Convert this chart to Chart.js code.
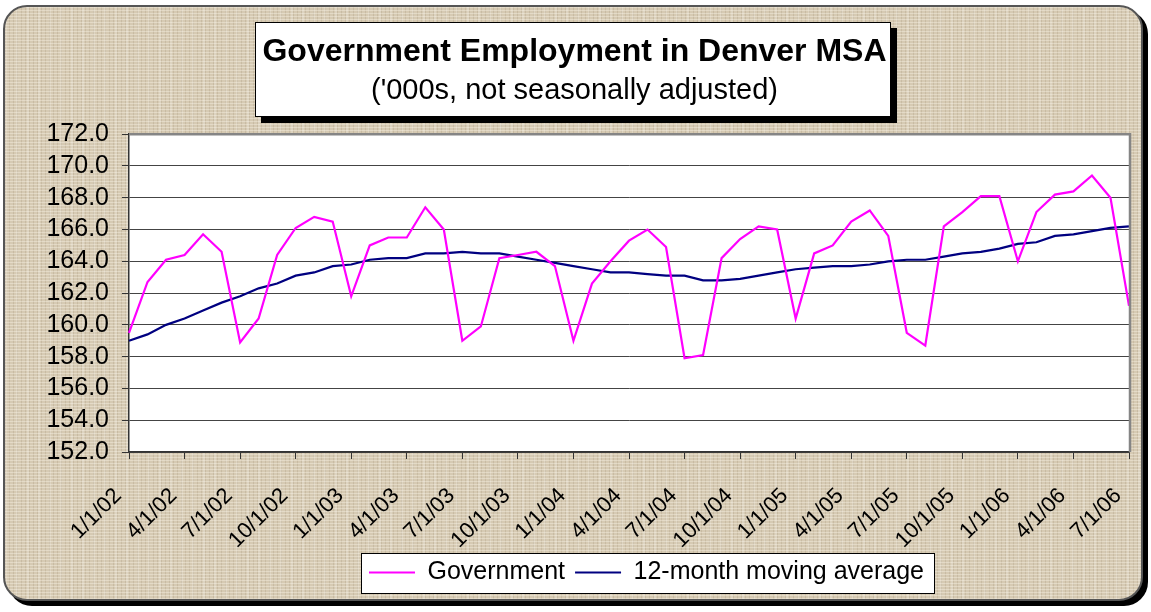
<!DOCTYPE html>
<html>
<head>
<meta charset="utf-8">
<title>Government Employment in Denver MSA</title>
<script src="https://cdn.jsdelivr.net/npm/chart.js@4"></script>
<style>
  html, body { margin: 0; padding: 0; background: #fff; }
  #wrap { position: relative; width: 1151px; height: 612px; overflow: hidden; }
  #frame {
    position: absolute; left: 3px; top: 5px; width: 1136px; height: 592px;
    border: 2px solid #555; border-radius: 24px;
    box-shadow: 5px 5px 0 #000;
    background-color: #d6cab3;
    background-image:
      repeating-linear-gradient(0deg, rgba(255,250,238,0.35) 0px, rgba(255,250,238,0.35) 1px, transparent 1px, transparent 3px),
      repeating-linear-gradient(90deg, rgba(130,110,80,0.16) 0px, rgba(130,110,80,0.16) 1px, transparent 1px, transparent 4px),
      repeating-linear-gradient(90deg, rgba(255,255,255,0.18) 0px, rgba(255,255,255,0.18) 2px, transparent 2px, transparent 11px);
  }
  canvas { position: absolute; left: 0; top: 0; }
</style>
</head>
<body>
<div id="wrap">
  <div id="frame"></div>
  <canvas id="chart" width="1151" height="612"></canvas>
</div>
<script>
const months = [
  '1/1/02','2/1/02','3/1/02','4/1/02','5/1/02','6/1/02','7/1/02','8/1/02','9/1/02','10/1/02','11/1/02','12/1/02',
  '1/1/03','2/1/03','3/1/03','4/1/03','5/1/03','6/1/03','7/1/03','8/1/03','9/1/03','10/1/03','11/1/03','12/1/03',
  '1/1/04','2/1/04','3/1/04','4/1/04','5/1/04','6/1/04','7/1/04','8/1/04','9/1/04','10/1/04','11/1/04','12/1/04',
  '1/1/05','2/1/05','3/1/05','4/1/05','5/1/05','6/1/05','7/1/05','8/1/05','9/1/05','10/1/05','11/1/05','12/1/05',
  '1/1/06','2/1/06','3/1/06','4/1/06','5/1/06','6/1/06','7/1/06'
];

const tickLabels = [
  '1/1/02','4/1/02','7/1/02','10/1/02','1/1/03','4/1/03','7/1/03','10/1/03',
  '1/1/04','4/1/04','7/1/04','10/1/04','1/1/05','4/1/05','7/1/05','10/1/05',
  '1/1/06','4/1/06','7/1/06'
];

const government = [
  159.5, 162.7, 164.1, 164.4, 165.7, 164.6, 158.9, 160.4, 164.4, 166.1, 166.8, 166.5,
  161.8, 165.0, 165.5, 165.5, 167.4, 166.0, 159.0, 159.9, 164.2, 164.4, 164.6, 163.7,
  159.0, 162.6, 164.0, 165.3, 166.0, 164.9, 157.9, 158.1, 164.2, 165.4, 166.2, 166.0,
  160.4, 164.5, 165.0, 166.5, 167.2, 165.6, 159.5, 158.7, 166.2, 167.1, 168.1, 168.1,
  164.0, 167.1, 168.2, 168.4, 169.4, 168.0, 161.2
];

const movingAvg = [
  159.0, 159.4, 160.0, 160.4, 160.9, 161.4, 161.8, 162.3, 162.6, 163.1, 163.3, 163.7,
  163.8, 164.1, 164.2, 164.2, 164.5, 164.5, 164.6, 164.5, 164.5, 164.3, 164.1, 163.9,
  163.7, 163.5, 163.3, 163.3, 163.2, 163.1, 163.1, 162.8, 162.8, 162.9, 163.1, 163.3,
  163.5, 163.6, 163.7, 163.7, 163.8, 164.0, 164.1, 164.1, 164.3, 164.5, 164.6, 164.8,
  165.1, 165.2, 165.6, 165.7, 165.9, 166.1, 166.2
];

const FONT = 'Arial, "Liberation Sans", Helvetica, sans-serif';
const titleText = 'Government Employment in Denver MSA';
const subtitleText = "('000s, not seasonally adjusted)";

// white boxes behind title and legend, plot area background
const decorations = {
  id: 'decorations',
  afterLayout(chart) {
    // title is centred on the page, legend sits right of centre
    chart.boxes.filter(b => b.position === 'top').forEach(b => {
      b.left += 10;
      b.right += 10;
    });
    chart.legend.left += 82;
    chart.legend.right += 82;
  },
  beforeDraw(chart) {
    const ctx = chart.ctx;
    const area = chart.chartArea;
    ctx.save();

    // title box
    ctx.font = 'bold 32px ' + FONT;
    const w = ctx.measureText(titleText).width;
    const cx = (chart.titleBlock.left + chart.titleBlock.right) / 2;
    const bx = Math.round(cx - w / 2 - 7), bw = Math.round(w + 12);
    const by = 22, bh = 95;
    ctx.fillStyle = '#000';
    ctx.fillRect(bx + 6, by + 6, bw, bh);
    ctx.fillStyle = '#fff';
    ctx.fillRect(bx, by, bw, bh);
    ctx.strokeStyle = '#000';
    ctx.lineWidth = 1;
    ctx.strokeRect(bx + 0.5, by + 0.5, bw - 1, bh - 1);

    // legend box
    const hb = chart.legend.legendHitBoxes;
    if (hb && hb.length) {
      const first = hb[0], last = hb[hb.length - 1];
      const lx = Math.round(first.left - 8);
      const rx = Math.round(last.left + last.width + 10);
      const cy = Math.round(first.top + first.height / 2);
      ctx.fillStyle = '#fff';
      ctx.fillRect(lx, cy - 20, rx - lx, 40);
      ctx.strokeStyle = '#000';
      ctx.strokeRect(lx + 0.5, cy - 20 + 0.5, rx - lx, 40);
    }

    // plot area
    ctx.fillStyle = '#fff';
    ctx.fillRect(area.left, area.top, area.right - area.left, area.bottom - area.top);
    ctx.restore();
  },
  afterDatasetsDraw(chart) {
    const ctx = chart.ctx;
    const area = chart.chartArea;
    ctx.save();
    ctx.strokeStyle = '#858585';
    ctx.lineWidth = 2.5;
    ctx.beginPath();
    ctx.moveTo(area.left, area.top);
    ctx.lineTo(area.right + 1, area.top);
    ctx.lineTo(area.right + 1, area.bottom);
    ctx.stroke();
    ctx.restore();
  }
};

new Chart(document.getElementById('chart'), {
  type: 'line',
  data: {
    labels: months,
    datasets: [
      {
        label: 'Government',
        data: government,
        borderColor: '#ff00ff',
        backgroundColor: '#ff00ff',
        borderWidth: 2.2,
        pointRadius: 0,
        tension: 0,
        fill: false
      },
      {
        label: '12-month moving average',
        data: movingAvg,
        borderColor: '#000080',
        backgroundColor: '#000080',
        borderWidth: 2.2,
        pointRadius: 0,
        tension: 0,
        fill: false
      }
    ]
  },
  options: {
    responsive: false,
    animation: false,
    layout: { padding: { left: 0, right: 22, top: 0, bottom: 17 } },
    plugins: {
      title: {
        display: true,
        text: titleText,
        color: '#000',
        font: { family: FONT, size: 32, weight: 'bold', lineHeight: 1.2 },
        padding: { top: 33, bottom: 2 }
      },
      subtitle: {
        display: true,
        text: subtitleText,
        color: '#000',
        font: { family: FONT, size: 29, weight: 'normal', lineHeight: 1.2 },
        padding: { top: 0, bottom: 26 }
      },
      legend: {
        position: 'bottom',
        labels: {
          color: '#000',
          font: { family: FONT, size: 25 },
          boxWidth: 46,
          boxHeight: 2,
          padding: 10,
          generateLabels(chart) {
            return Chart.defaults.plugins.legend.labels.generateLabels(chart)
              .map(l => Object.assign(l, { lineWidth: 0, fillStyle: l.strokeStyle }));
          }
        }
      },
      tooltip: { enabled: false }
    },
    scales: {
      x: {
        offset: false,
        afterFit(scale) {
          scale.height = 98;
          scale.paddingLeft = 0;
          scale.paddingRight = 0;
        },
        grid: {
          drawOnChartArea: false,
          tickLength: 7,
          tickColor: ctx => (ctx.index % 3 === 0 ? '#333' : 'rgba(0,0,0,0)')
        },
        border: { color: '#333', width: 1.5 },
        ticks: {
          autoSkip: false,
          minRotation: 45,
          maxRotation: 45,
          padding: 24,
          labelOffset: -11,
          color: '#000',
          font: { family: FONT, size: 22 },
          callback(value, index) {
            const lab = months[index];
            return tickLabels.includes(lab) ? lab : '';
          }
        }
      },
      y: {
        min: 152,
        max: 172,
        afterFit(scale) { scale.width = 129; },
        grid: { color: '#444', lineWidth: 1, tickLength: 7, tickColor: '#333' },
        border: { color: '#333', width: 1.5 },
        ticks: {
          stepSize: 2,
          autoSkip: false,
          padding: 13,
          color: '#000',
          font: { family: FONT, size: 25 },
          callback: v => v.toFixed(1)
        }
      }
    }
  },
  plugins: [decorations]
});
</script>
</body>
</html>
